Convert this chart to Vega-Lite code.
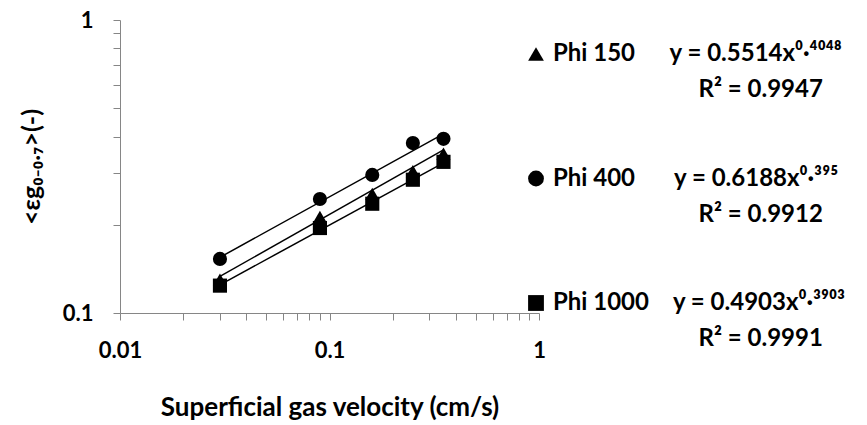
{
  "$schema": "https://vega.github.io/schema/vega-lite/v6.json",
  "autosize": "none",
  "width": 419,
  "height": 293,
  "padding": {"left": 120, "top": 20, "right": 328, "bottom": 112},
  "background": "white",
  "config": {
    "view": {"stroke": null},
    "font": "Lato",
    "style": {"guide-label": {"lineHeight": 36}},
    "axis": {
      "grid": false,
      "domainColor": "#868686",
      "tickColor": "#868686",
      "tickSize": 7,
      "labelFont": "Lato",
      "labelFontSize": 22,
      "labelFontWeight": "bold",
      "labelColor": "black",
      "titleFont": "Lato",
      "titleFontSize": 22,
      "titleFontWeight": "bold",
      "titleColor": "black",
      "labelOverlap": false,
      "labelFlush": false,
      "labelBound": false
    }
  },
  "datasets": {
    "points": [
      {"series": "Phi 150", "v": 0.03, "eg": 0.130},
      {"series": "Phi 150", "v": 0.09, "eg": 0.213},
      {"series": "Phi 150", "v": 0.16, "eg": 0.255},
      {"series": "Phi 150", "v": 0.25, "eg": 0.305},
      {"series": "Phi 150", "v": 0.35, "eg": 0.350},
      {"series": "Phi 400", "v": 0.03, "eg": 0.153},
      {"series": "Phi 400", "v": 0.09, "eg": 0.245},
      {"series": "Phi 400", "v": 0.16, "eg": 0.296},
      {"series": "Phi 400", "v": 0.25, "eg": 0.380},
      {"series": "Phi 400", "v": 0.35, "eg": 0.393},
      {"series": "Phi 1000", "v": 0.03, "eg": 0.124},
      {"series": "Phi 1000", "v": 0.09, "eg": 0.195},
      {"series": "Phi 1000", "v": 0.16, "eg": 0.236},
      {"series": "Phi 1000", "v": 0.25, "eg": 0.285},
      {"series": "Phi 1000", "v": 0.35, "eg": 0.328}
    ],
    "fits": [
      {"series": "Phi 150", "v": 0.03, "eg": 0.1333},
      {"series": "Phi 150", "v": 0.35, "eg": 0.3605},
      {"series": "Phi 400", "v": 0.03, "eg": 0.1549},
      {"series": "Phi 400", "v": 0.35, "eg": 0.4088},
      {"series": "Phi 1000", "v": 0.03, "eg": 0.1248},
      {"series": "Phi 1000", "v": 0.35, "eg": 0.3255}
    ]
  },
  "layer": [
    {
      "data": {"name": "fits"},
      "mark": {"type": "line", "color": "black", "strokeWidth": 1.5},
      "encoding": {
        "x": {"field": "v", "type": "quantitative", "scale": {"type": "log", "domain": [0.01, 1], "nice": false}},
        "y": {"field": "eg", "type": "quantitative", "scale": {"type": "log", "domain": [0.1, 1], "nice": false}},
        "detail": {"field": "series"}
      }
    },
    {
      "data": {"name": "points"},
      "mark": {"type": "point", "filled": true, "color": "black", "opacity": 1, "size": 200},
      "encoding": {
        "x": {
          "field": "v", "type": "quantitative",
          "scale": {"type": "log", "domain": [0.01, 1], "nice": false},
          "axis": {
            "title": "Superficial gas velocity (cm/s)",
            "titleFontSize": 26,
            "values": [0.01, 0.02, 0.03, 0.04, 0.05, 0.06, 0.07, 0.08, 0.09, 0.1, 0.2, 0.3, 0.4, 0.5, 0.6, 0.7, 0.8, 0.9, 1],
            "format": "~g",
            "labelExpr": "(datum.value == 0.01 || datum.value == 0.1 || datum.value == 1) ? datum.label : ''",
            "labelPadding": 20,
            "titlePadding": 33
          }
        },
        "y": {
          "field": "eg", "type": "quantitative",
          "scale": {"type": "log", "domain": [0.1, 1], "nice": false},
          "axis": {
            "title": "<εg₀₋₀.₇>(-)",
            "titleFontSize": 25,
            "values": [0.1, 0.2, 0.3, 0.4, 0.5, 0.6, 0.7, 0.8, 0.9, 1],
            "format": "~g",
            "labelExpr": "(datum.value == 0.1 || datum.value == 1) ? datum.label : ''",
            "labelPadding": 20,
            "titlePadding": 18
          }
        },
        "shape": {
          "field": "series", "type": "nominal",
          "scale": {"domain": ["Phi 150", "Phi 400", "Phi 1000"], "range": ["triangle-up", "circle", "square"]},
          "legend": {
            "title": null,
            "orient": "right",
            "offset": -37,
            "padding": 22,
            "symbolSize": 250,
            "symbolFillColor": "black",
            "symbolStrokeWidth": 0,
            "labelFont": "Lato",
            "labelFontSize": 24,
            "labelFontWeight": "bold",
            "labelColor": "black",
            "labelLimit": 600,
            "labelBaseline": "middle",
            "labelOffset": 5,
            "rowPadding": 64.5,
            "labelExpr": "datum.label == 'Phi 150' ? ['Phi 150\u2003\u2002\u200A\u2009y = 0.5514x⁰·⁴⁰⁴⁸', '\u200B\u2003\u2003\u2003\u2003\u2003\u2003\u2003\u2003\u200AR² = 0.9947'] : datum.label == 'Phi 400' ? ['Phi 400\u2003\u2002\u2009\u2009\u2009y = 0.6188x⁰·³⁹⁵', '\u200B\u2003\u2003\u2003\u2003\u2003\u2003\u2003\u2003\u200AR² = 0.9912'] : ['Phi 1000\u2003\u2009\u2009y = 0.4903x⁰·³⁹⁰³', '\u200B\u2003\u2003\u2003\u2003\u2003\u2003\u2003\u2003\u200AR² = 0.9991']"
          }
        }
      }
    }
  ]
}
